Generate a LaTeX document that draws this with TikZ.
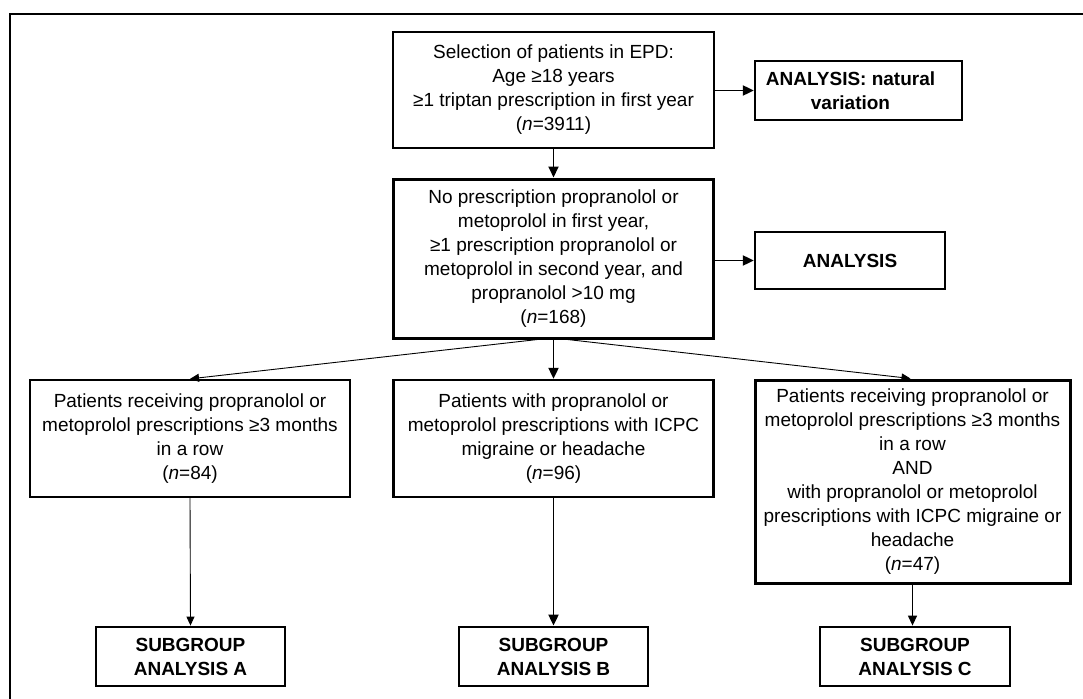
\documentclass[tikz,border=0pt]{standalone}
\usepackage{fontspec}
\setmainfont{Liberation Sans}
\usetikzlibrary{arrows.meta}
\begin{document}
\begin{tikzpicture}[x=1pt,y=-1pt,
  txt/.style={font=\fontsize{19}{24}\selectfont},
  box/.style={draw, line width=2.3pt, align=center, inner sep=0pt, txt},
  bbox/.style={box, font=\fontsize{19}{24}\selectfont\bfseries},
  btxt/.style={align=center, inner sep=0pt, font=\fontsize{19}{24}\selectfont\bfseries},
  thick arrow/.style={line width=1.9pt, -{Triangle[length=11pt,width=10pt]}},
  thin arrow/.style={line width=0.9pt, -{Triangle[length=9pt,width=8pt]}}]
\useasboundingbox (0,0) rectangle (1083,698);
\begin{scope}
\clip (0,0) rectangle (1083,698);
\draw[line width=2.5pt] (10,14) rectangle (1100,720);
\end{scope}
\node[box, minimum width=321pt, minimum height=116pt] (top) at (553.5,90)
  {Selection of patients in EPD:\\Age ≥18 years\\≥1 triptan prescription in first year\\(\textit{n}=3911)};
\node[bbox, minimum width=207pt, minimum height=59pt] (anv) at (858.5,90.5) {};
\node[btxt] (anvtext) at ([xshift=-8pt]anv.center) {ANALYSIS: natural\\variation};
\node[box, line width=3pt, minimum width=320pt, minimum height=159pt] (mid) at (553.5,258.5)
  {No prescription propranolol or\\metoprolol in first year,\\≥1 prescription propranolol or\\metoprolol in second year, and\\propranolol >10 mg\\(\textit{n}=168)};
\node[bbox, minimum width=190pt, minimum height=57pt] (an) at (850,260.5) {ANALYSIS};
\node[box, minimum width=320pt, minimum height=117pt] (a) at (190,438.5)
  {Patients receiving propranolol or\\metoprolol prescriptions ≥3 months\\in a row\\(\textit{n}=84)};
\node[box, minimum width=320pt, minimum height=117pt] (b) at (553.5,438.5)
  {Patients with propranolol or\\metoprolol prescriptions with ICPC\\migraine or headache\\(\textit{n}=96)};
\node[box, line width=3pt, minimum width=315pt, minimum height=203pt] (c) at (912.5,481.5)
  {Patients receiving propranolol or\\metoprolol prescriptions ≥3 months\\in a row\\AND\\with propranolol or metoprolol\\prescriptions with ICPC migraine or\\headache\\(\textit{n}=47)};
\node[bbox, line width=2.8pt, minimum width=189pt, minimum height=59pt] (sa) at (190.5,656.5) {SUBGROUP\\ANALYSIS A};
\node[bbox, line width=2.8pt, minimum width=189pt, minimum height=59pt] (sb) at (553.5,656.5) {SUBGROUP\\ANALYSIS B};
\node[bbox, line width=2.8pt, minimum width=190pt, minimum height=59pt] (sc) at (915,656.5) {SUBGROUP\\ANALYSIS C};
\draw[thick arrow] (top.south) -- (mid.north);
\draw[thick arrow] (top.east |- anv) -- (anv.west);
\draw[thick arrow] (mid.east |- an) -- (an.west);
\draw[thick arrow] (mid.south) -- (b.north);
\draw[thin arrow] ([xshift=-16pt]mid.south) -- (a.north);
\draw[thin arrow] ([xshift=14pt]mid.south) -- ([xshift=-2pt]c.north);
\draw[thin arrow] (a.south) -- (sa.north);
\draw[thick arrow] (b.south) -- (sb.north);
\draw[line width=1.3pt, -{Triangle[length=10pt,width=9pt]}] (c.south) -- (c.south |- sc.north);
\end{tikzpicture}
\end{document}
